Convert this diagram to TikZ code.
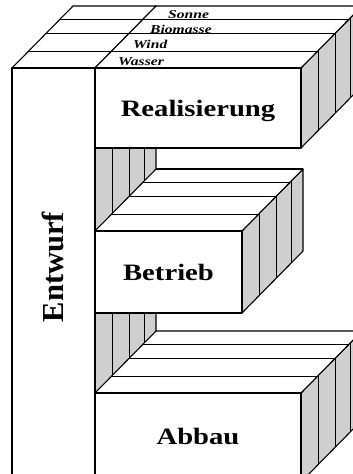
\documentclass[tikz,border=0pt]{standalone}
\usepackage{fontspec}
\setmainfont{Liberation Serif}
\newfontfamily\wideserif{Liberation Serif}[FakeStretch=1.22]
\newfontfamily\labelserif{Liberation Serif}[FakeStretch=1.3]
\tikzset{
  face/.style={draw=black, fill=white, line width=1.1pt, line join=round},
  side/.style={draw=black, fill=black!19, line width=1.1pt, line join=round},
  strip/.style={draw=black, line width=0.9pt},
  boxlabel/.style={font=\wideserif\bfseries\fontsize{23.5}{28}\selectfont, anchor=base, inner sep=0pt},
  srclabel/.style={font=\labelserif\bfseries\itshape\fontsize{12}{14}\selectfont, anchor=base west, inner sep=0pt},
  vlabel/.style={font=\bfseries\fontsize{30.5}{34}\selectfont, anchor=base, inner sep=0pt, rotate=90}
}
% #1 front left x, #2 front top y, #3 front right x, #4 front bottom y
\newcommand\drawslab[4]{%
  \filldraw[side] (#3,#2) -- (#3+61,#2-62) -- (#3+61,#4-62) -- (#3,#4) -- cycle;
  \foreach \f in {0.28,0.56,0.81}{\draw[strip] (#3+61*\f,#2-62*\f) -- (#3+61*\f,#4-62*\f);}
  \filldraw[face] (#1,#2) -- (#3,#2) -- (#3+61,#2-62) -- (#1+61,#2-62) -- cycle;
  \foreach \f in {0.27,0.55,0.79}{\draw[strip] (#1+61*\f,#2-62*\f) -- (#3+61*\f,#2-62*\f);}
  \filldraw[face] (#1,#2) rectangle (#3,#4);
}
\begin{document}
\begin{tikzpicture}[x=1pt,y=-1pt]
\useasboundingbox (0,0) rectangle (353,474);
\clip (0,0) rectangle (353,474);
% Entwurf column
\drawslab{12}{68}{95}{482}
% Realisierung
\drawslab{95}{68}{301}{148}
\draw[line width=1.6pt] (95,148) -- (301,148);
% Betrieb
\drawslab{95}{231}{242}{313}
\draw[line width=1.6pt] (156,169) -- (303,169);
\draw[line width=1.6pt] (95,313) -- (242,313);
% Abbau
\drawslab{95}{393}{301}{482}
% labels
\node[vlabel] (entwurf) at (63,267) {Entwurf};
\node[boxlabel] (real) at (198,116) {Realisierung};
\node[boxlabel] (betr) at (168.5,280) {Betrieb};
\node[boxlabel] (abb) at (198,444) {Abbau};
\node[srclabel] (wasser) at (118,65) {Wasser};
\node[srclabel] (wind) at (133,48) {Wind};
\node[srclabel] (bio) at (150,33) {Biomasse};
\node[srclabel] (sonne) at (168,18) {Sonne};
\end{tikzpicture}
\end{document}
